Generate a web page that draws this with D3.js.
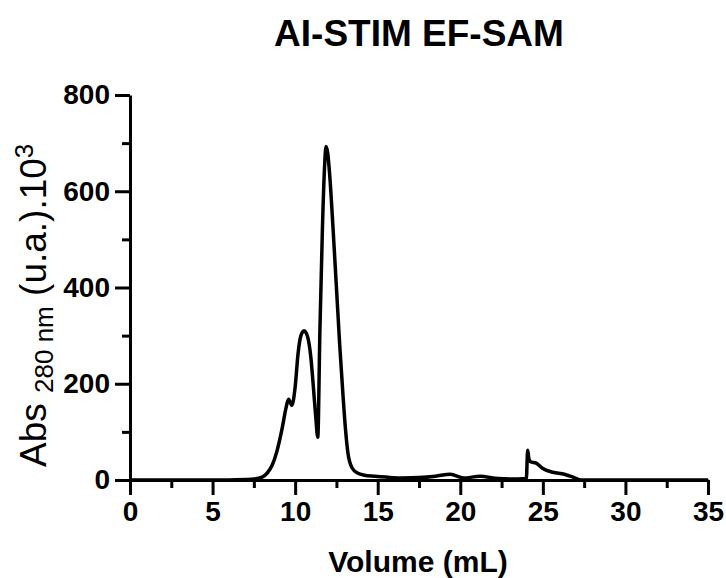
<!DOCTYPE html>
<html>
<head>
<meta charset="utf-8">
<script src="https://cdn.jsdelivr.net/npm/d3@7"></script>
<style>
  body { margin: 0; background: #fff; }
  text { font-family: "Liberation Sans", Arial, sans-serif; fill: #000; }
</style>
</head>
<body>
<svg id="chart" width="726" height="578"></svg>
<script>
// elution volume (mL) and absorbance at 280 nm (x10^3)
const volume = [0, 2, 4, 6, 7, 7.5, 8, 8.3, 8.6, 8.9, 9.2, 9.45, 9.6, 9.8, 10.0, 10.18, 10.35, 10.54,
    10.75, 10.95, 11.1, 11.25, 11.37, 11.5, 11.65, 11.78, 11.87, 11.97, 12.1, 12.3, 12.5, 12.7,
    12.9, 13.05, 13.2, 13.45, 13.8, 14.2, 14.8, 15.5, 16.5, 17.5, 18.5, 19.4, 20.2, 21.2, 22.3, 23.5, 24.0,
    24.08, 24.15, 24.25, 24.6, 25.0, 25.6, 26.3, 26.9, 27.3, 28, 35]
const absorbance = [0, 0, 0, 0, 1, 2, 6, 14, 30, 60, 105, 150, 168, 155, 193, 264, 300, 310,
    298, 255, 195, 130, 89, 312, 520, 650, 693, 680, 630, 520, 400, 280,
    175, 105, 55, 25, 14, 10, 8, 6, 4, 5, 8, 12, 4, 8, 3, 2, 3,
    62, 45, 38, 35, 24, 16, 12, 5, 0, 0, 0]

const xTicks = [0, 5, 10, 15, 20, 25, 30, 35]
const xMinorTicks = [2.5, 7.5, 12.5, 17.5, 22.5, 27.5, 32.5]
const yTicks = [0, 200, 400, 600, 800]
const yMinorTicks = [100, 300, 500, 700]

const svg = d3.select('#chart')

const x = d3.scaleLinear().domain([0, 35]).range([130, 708])
const y = d3.scaleLinear().domain([0, 800]).range([480, 95])

const styleAxis = function (g) {
    g.selectAll('path, line').attr('stroke', '#000').attr('stroke-width', 3)
    g.selectAll('text')
        .style('font-size', '28px')
        .style('font-weight', 'bold')
}

// minor ticks first so the main axes sit on top
svg.append('g')
    .attr('transform', `translate(0,${y(0)})`)
    .call(d3.axisBottom(x).tickValues(xMinorTicks).tickSize(8).tickFormat(''))
    .call(styleAxis)
    .select('.domain').remove()

svg.append('g')
    .attr('transform', `translate(${x(0)},0)`)
    .call(d3.axisLeft(y).tickValues(yMinorTicks).tickSize(8).tickFormat(''))
    .call(styleAxis)
    .select('.domain').remove()

svg.append('g')
    .attr('transform', `translate(0,${y(0)})`)
    .call(d3.axisBottom(x).tickValues(xTicks).tickSize(15).tickSizeOuter(0).tickPadding(6))
    .call(styleAxis)

svg.append('g')
    .attr('transform', `translate(${x(0)},0)`)
    .call(d3.axisLeft(y).tickValues(yTicks).tickSize(15).tickSizeOuter(0).tickPadding(5))
    .call(styleAxis)

const line = d3.line()
    .x((d, i) => x(volume[i]))
    .y(d => y(d))
    .curve(d3.curveMonotoneX)

svg.append('path')
    .datum(absorbance)
    .attr('fill', 'none')
    .attr('stroke', '#000')
    .attr('stroke-width', 3.5)
    .attr('stroke-linejoin', 'round')
    .attr('d', line)

// title
svg.append('text')
    .attr('x', 419)
    .attr('y', 46)
    .attr('text-anchor', 'middle')
    .style('font-size', '37px')
    .style('font-weight', 'bold')
    .text('AI-STIM EF-SAM')

// x label
svg.append('text')
    .attr('x', 418)
    .attr('y', 572)
    .attr('text-anchor', 'middle')
    .style('font-size', '30px')
    .style('font-weight', 'bold')
    .text('Volume (mL)')

// y label with subscript and superscript
const yLabel = svg.append('text')
    .attr('transform', 'translate(46,467) rotate(-90)')
    .attr('text-anchor', 'start')
    .style('font-size', '37px')
yLabel.append('tspan').text('Abs ')
yLabel.append('tspan').attr('dy', 7).style('font-size', '26px').text('280 nm')
yLabel.append('tspan').attr('dy', -7).text(' (u.a.).10')
yLabel.append('tspan').attr('dy', -13).style('font-size', '26px').text('3')
</script>
</body>
</html>
